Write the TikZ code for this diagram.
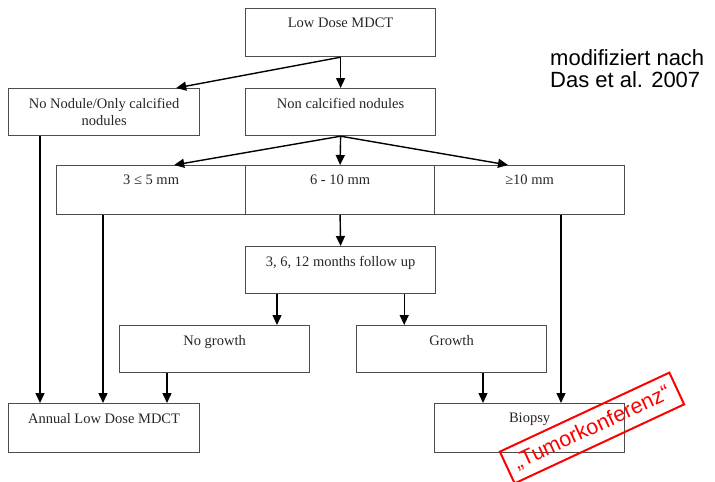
\documentclass[tikz,border=0pt]{standalone}
\usepackage{fontspec}
\setmainfont{Liberation Serif}
\newfontfamily\notefont{Liberation Sans}
\usetikzlibrary{arrows.meta}

\begin{document}
\begin{tikzpicture}[x=1pt, y=-1pt]

    \useasboundingbox (0,0) rectangle (715,482);

    \tikzset{box/.style={draw=black!70, line width=1.2pt, anchor=north west, minimum width=190pt, minimum height=48pt, inner sep=0pt}}
    \tikzset{txt/.style={anchor=north, yshift=-10pt, inner sep=0pt, align=center, text=black!85, font=\fontsize{14.5}{17}\selectfont}}
    \tikzset{arr/.style={-{Triangle[length=10pt, width=9pt]}, line width=1.4pt}}

    % Screening + first split
    \node[box, label={[txt]north:Low Dose MDCT}] (ldct) at (245,8) {};
    \node[box, minimum width=191pt, minimum height=47pt, label={[txt]north:No Nodule/Only calcified\\nodules}] (nonod) at (8,88) {};
    \node[box, minimum height=47pt, label={[txt]north:Non calcified nodules}] (noncalc) at (245,88) {};

    % Size classes
    \node[box, minimum width=189pt, minimum height=49pt, label={[txt]north:3 ≤ 5 mm}] (small) at (56,165) {};
    \node[box, minimum width=189pt, minimum height=49pt, label={[txt]north:6 - 10 mm}] (medium) at (245,165) {};
    \node[box, minimum height=49pt, label={[txt]north:≥10 mm}] (large) at (434,165) {};

    % Follow up
    \node[box, minimum height=47pt, label={[txt]north:{3, 6, 12 months follow up}}] (follow) at (245,246) {};
    \node[box, minimum height=47pt, label={[txt]north:No growth}] (nogrowth) at (119,325) {};
    \node[box, minimum height=47pt, label={[txt]north:Growth}] (growth) at (356,325) {};

    % Outcome
    \node[box, minimum width=191pt, minimum height=49pt, label={[txt]north:Annual Low Dose MDCT}] (annual) at (8,403) {};
    \node[box, minimum height=49pt, label={[txt]north:Biopsy}] (biopsy) at (434,403) {};

    % Arrows
    \draw[arr] (ldct.south) -- ([xshift=-24pt]nonod.north east);
    \draw[arr] (ldct.south) -- (noncalc.north);
    \draw[arr] (noncalc.south) -- ([xshift=-72pt]small.north east);
    \draw[arr] (noncalc.south) -- (medium.north);
    \draw[arr] (noncalc.south) -- ([xshift=74pt]large.north west);
    \draw[arr] (medium.south) -- (follow.north);
    \draw[arr] ([xshift=32pt]follow.south west) coordinate (fl) -- (fl |- nogrowth.north);
    \draw[arr] ([xshift=-32pt]follow.south east) coordinate (fr) -- (fr |- growth.north);
    \draw[arr] ([xshift=32pt]nonod.south west) coordinate (n1) -- (n1 |- annual.north);
    \draw[arr] ([xshift=47pt]small.south west) coordinate (s1) -- (s1 |- annual.north);
    \draw[arr] ([xshift=48pt]nogrowth.south west) coordinate (g1) -- (g1 |- annual.north);
    \draw[arr] ([xshift=127pt]growth.south west) coordinate (g2) -- (g2 |- biopsy.north);
    \draw[arr] ([xshift=127pt]large.south west) coordinate (l1) -- (l1 |- biopsy.north);

    % Source + stamp
    \node[anchor=north west, inner sep=0pt, align=left, font=\notefont\fontsize{22}{22.5}\selectfont] (note) at (550,49) {modifiziert nach\\Das et al. 2007};
    \node[draw=red, line width=2pt, text=red, rotate=25, minimum width=187pt, minimum height=35pt, inner sep=0pt, font=\notefont\fontsize{21.5}{24}\selectfont] (stamp) at (592,428) {„Tumorkonferenz“};

\end{tikzpicture}
\end{document}
